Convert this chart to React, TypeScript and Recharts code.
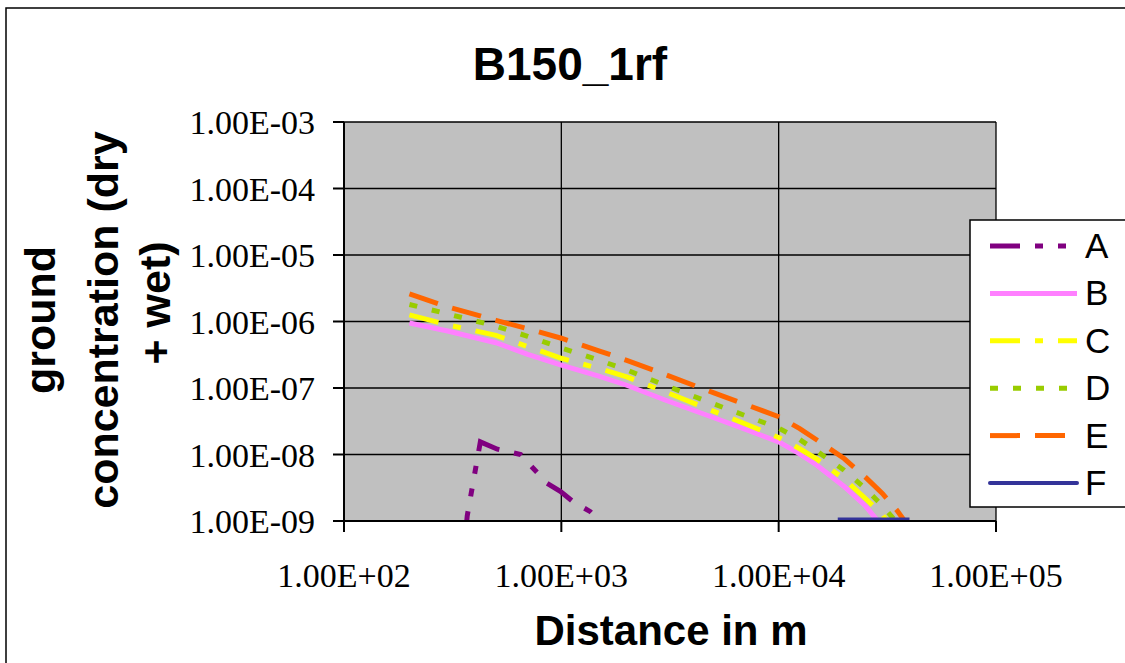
import { LineChart, Line, XAxis, YAxis, CartesianGrid } from "recharts"

// distance (m) vs ground concentration
const xTicks = [100, 1000, 10000, 100000]
const yTicks = [1e-9, 1e-8, 1e-7, 1e-6, 1e-5, 1e-4, 1e-3]

const seriesA: [number, number][] = [
    [360, 5e-10], [369, 1.2e-9], [424, 1.55e-8], [508, 1.2e-8], [650, 1.0e-8],
    [720, 6.9e-9], [860, 3.7e-9], [989, 2.8e-9], [1135, 1.94e-9], [1360, 1.38e-9],
    [1510, 1.0e-9], [1600, 8e-10],
]
const seriesB: [number, number][] = [
    [200, 9.5e-7], [300, 7.2e-7], [500, 4.8e-7], [700, 3.2e-7], [1000, 2.2e-7],
    [1500, 1.5e-7], [2000, 1.1e-7], [3000, 6.6e-8], [5000, 3.6e-8], [7000, 2.4e-8],
    [10000, 1.55e-8], [12500, 1.02e-8], [15000, 6.9e-9], [20000, 3.3e-9], [25000, 1.7e-9],
    [28600, 1.0e-9], [30000, 8e-10],
]
const seriesC: [number, number][] = [
    [200, 1.26e-6], [300, 8.9e-7], [500, 6.2e-7], [700, 4.2e-7], [1000, 2.8e-7],
    [1500, 1.95e-7], [2000, 1.47e-7], [3000, 8.8e-8], [5000, 4.5e-8], [7000, 2.9e-8],
    [10000, 1.8e-8], [12500, 1.22e-8], [15000, 8.5e-9], [20000, 4.3e-9], [25000, 2.2e-9],
    [30000, 1.25e-9], [31500, 1.0e-9], [33000, 8e-10],
]
const seriesD: [number, number][] = [
    [200, 1.8e-6], [300, 1.3e-6], [500, 8.5e-7], [700, 6.0e-7], [1000, 4.0e-7],
    [1500, 2.6e-7], [2000, 1.87e-7], [3000, 1.1e-7], [5000, 5.8e-8], [7000, 3.85e-8],
    [10000, 2.5e-8], [12500, 1.68e-8], [15000, 1.12e-8], [20000, 5.8e-9], [25000, 3.1e-9],
    [30000, 1.7e-9], [34500, 1.0e-9], [36000, 8e-10],
]
const seriesE: [number, number][] = [
    [200, 2.6e-6], [300, 1.66e-6], [500, 1.04e-6], [700, 7.8e-7], [1000, 5.6e-7],
    [1500, 3.6e-7], [2000, 2.6e-7], [3000, 1.6e-7], [5000, 8.5e-8], [7000, 5.7e-8],
    [10000, 3.7e-8], [12500, 2.45e-8], [15000, 1.65e-8], [20000, 8.7e-9], [25000, 4.6e-9],
    [30000, 2.6e-9], [35000, 1.45e-9], [38000, 1.0e-9], [40000, 8e-10],
]
const seriesF: [number, number][] = [
    [18700, 1.05e-9], [25000, 1.05e-9], [32000, 1.05e-9], [40000, 1.05e-9],
]

const seriesNames = ["A", "B", "C", "D", "E", "F"]
const seriesData = [seriesA, seriesB, seriesC, seriesD, seriesE, seriesF]

const styles = [
    { color: "#800080", dash: "30 15 8 15 8 15", width: 5 },
    { color: "#FF80FF", dash: undefined, width: 5 },
    { color: "#FFFF00", dash: "30 15 8 15", width: 5 },
    { color: "#99CC00", dash: "8 15", width: 5 },
    { color: "#FF6600", dash: "30 15", width: 5 },
    { color: "#333399", dash: undefined, width: 4 },
]

const sans = "'Liberation Sans', Arial, sans-serif"
const serif = "'Liberation Serif', 'Times New Roman', serif"

const sci = (v: number) => {
    const e = Math.round(Math.log10(v))
    return `1.00E${e < 0 ? "-" : "+"}${String(Math.abs(e)).padStart(2, "0")}`
}

export default function App() {
    return (
        <div style={{ position: "absolute", left: 0, top: 0, width: 1125, height: 663, background: "#fff", overflow: "hidden" }}>
            <LineChart width={1125} height={663} margin={{ top: 122, right: 129, left: 244, bottom: 82 }}>
                <CartesianGrid fill="#C0C0C0" fillOpacity={1} stroke="#000" strokeWidth={1.3} />
                <XAxis
                    type="number"
                    dataKey="x"
                    scale="log"
                    domain={[100, 100000]}
                    ticks={xTicks}
                    allowDataOverflow
                    height={60}
                    tickSize={11}
                    tickMargin={31}
                    tickFormatter={sci}
                    stroke="#000"
                    strokeWidth={2}
                    tick={{ fontFamily: serif, fontSize: 34, fill: "#000" }}
                />
                <YAxis
                    type="number"
                    dataKey="y"
                    scale="log"
                    domain={[1e-9, 1e-3]}
                    ticks={yTicks}
                    allowDataOverflow
                    width={100}
                    tickSize={11}
                    tickMargin={18}
                    tickFormatter={sci}
                    stroke="#000"
                    strokeWidth={2}
                    tick={{ fontFamily: serif, fontSize: 34, fill: "#000" }}
                />
                {seriesData.map((s, i) => (
                    <Line
                        key={seriesNames[i]}
                        data={s.map(([x, y]) => ({ x, y }))}
                        dataKey="y"
                        name={seriesNames[i]}
                        type="linear"
                        stroke={styles[i].color}
                        strokeWidth={styles[i].width}
                        strokeDasharray={styles[i].dash}
                        dot={false}
                        activeDot={false}
                        isAnimationActive={false}
                    />
                ))}
            </LineChart>
            <svg width={1125} height={663} style={{ position: "absolute", left: 0, top: 0, pointerEvents: "none" }}>
                <rect x={6} y={8} width={1130} height={670} fill="none" stroke="#000" strokeWidth={1.5} />
                <text x={570} y={80} textAnchor="middle" fontFamily={sans} fontWeight="bold" fontSize={46}>B150_1rf</text>
                <text x={671} y={645} textAnchor="middle" fontFamily={sans} fontWeight="bold" fontSize={42}>Distance in m</text>
                <g fontFamily={sans} fontWeight="bold" fontSize={43} textAnchor="middle">
                    <text transform="translate(55,320) rotate(-90)">ground</text>
                    <text transform="translate(118,320) rotate(-90)">concentration (dry</text>
                    <text transform="translate(170,303) rotate(-90)">+ wet)</text>
                </g>
                <rect x={970} y={220} width={170} height={287} fill="#fff" stroke="#000" strokeWidth={1.5} />
                {seriesNames.map((n, i) => {
                    const y = 246 + i * 47.4
                    return (
                        <g key={n}>
                            <line
                                x1={990}
                                x2={1077}
                                y1={y}
                                y2={y}
                                stroke={styles[i].color}
                                strokeWidth={styles[i].width}
                                strokeDasharray={styles[i].dash}
                                strokeLinecap={i === 5 ? "round" : "butt"}
                            />
                            <text x={1085} y={y + 12} fontFamily={sans} fontSize={35}>{n}</text>
                        </g>
                    )
                })}
            </svg>
        </div>
    )
}
